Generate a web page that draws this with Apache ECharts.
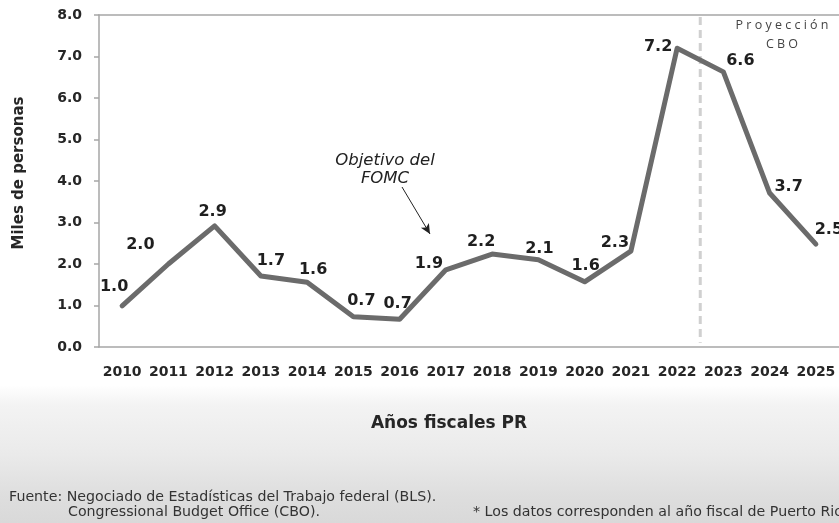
<!DOCTYPE html>
<html>
<head>
<meta charset="utf-8">
<script src="https://cdn.jsdelivr.net/npm/echarts@6/dist/echarts.min.js"></script>
<style>
  html, body { margin: 0; padding: 0; }
  body {
    width: 839px; height: 523px; overflow: hidden;
    background: linear-gradient(to bottom, #ffffff 0px, #ffffff 385px, #f3f3f3 405px, #eaeaea 455px, #dedede 495px, #d9d9d9 523px);
  }
  #chart { width: 839px; height: 523px; }
</style>
</head>
<body>
<div id="chart"></div>
<script>
const years = ["2010", "2011", "2012", "2013", "2014", "2015", "2016", "2017",
  "2018", "2019", "2020", "2021", "2022", "2023", "2024", "2025"];
const values = [0.99, 2.0, 2.92, 1.71, 1.56, 0.73, 0.67, 1.86,
  2.24, 2.1, 1.57, 2.31, 7.2, 6.63, 3.71, 2.48];
const yTicks = [0, 1, 2, 3, 4, 5, 6, 7, 8];
const projectionStart = "2023";

// label offsets (dx, dy) per point, relative to the point
const labelOffsets = [
  [-8, -19], [-28, -19], [-2, -14], [10, -15], [6, -12], [8, -16], [-2, -15], [-17, -6],
  [-11, -12], [1, -11], [1, -16], [-16, -8], [-19, -1], [17, -11], [19, -6], [13, -14]
];

const font = "DejaVu Sans";
const chart = echarts.init(document.getElementById("chart"));

const option = {
  animation: false,
  grid: { left: 99, top: 15, right: -4, bottom: 176 },
  xAxis: [
    {
      type: "category",
      data: years,
      axisLine: { lineStyle: { color: "#a6a6a6", width: 1.5 } },
      axisTick: { length: 5, lineStyle: { color: "#a6a6a6", width: 1.5 } },
      axisLabel: { interval: 0, fontFamily: font, fontWeight: "bold", fontSize: 14, color: "#262626", margin: 18 },
    },
    {
      type: "category",
      data: years,
      position: "top",
      axisLine: { lineStyle: { color: "#a6a6a6", width: 1.5 } },
      axisTick: { show: false },
      axisLabel: { show: false },
    },
  ],
  yAxis: {
    type: "value",
    min: yTicks[0],
    max: yTicks[yTicks.length - 1],
    interval: 1,
    axisLine: { show: true, lineStyle: { color: "#a6a6a6", width: 1.5 } },
    axisTick: { show: true, length: 5, lineStyle: { color: "#a6a6a6", width: 1.5 } },
    splitLine: { show: false },
    axisLabel: {
      fontFamily: font, fontWeight: "bold", fontSize: 14, color: "#262626", margin: 17,
      formatter: (v) => v.toFixed(1),
    },
  },
  series: [
    {
      type: "line",
      data: values.map((v, i) => ({
        value: v,
        label: { offset: labelOffsets[i] },
      })),
      showSymbol: true,
      symbol: "circle",
      symbolSize: 1,
      itemStyle: { color: "rgba(0,0,0,0)", borderWidth: 0 },
      lineStyle: { color: "#6b6b6b", width: 5, join: "round", cap: "round" },
      label: {
        show: true,
        position: "inside",
        fontFamily: font,
        fontWeight: "bold",
        fontSize: 16,
        color: "#1f1f1f",
        formatter: (p) => p.value.toFixed(1),
      },
      markLine: {
        silent: true,
        symbol: ["none", "arrow"],
        symbolSize: [7, 10],
        label: { show: false },
        lineStyle: { color: "#222", width: 1, type: "solid" },
        data: [[{ x: 402, y: 187 }, { x: 430, y: 234 }]],
      },
    },
  ],
};
chart.setOption(option);

// dashed separator between actual and projected years
const a = chart.convertToPixel({ xAxisIndex: 0 }, years[years.indexOf(projectionStart) - 1]);
const b = chart.convertToPixel({ xAxisIndex: 0 }, projectionStart);
const xs = (a + b) / 2;
const yTop = chart.convertToPixel({ yAxisIndex: 0 }, 8);
const yBot = chart.convertToPixel({ yAxisIndex: 0 }, 0.1);

chart.setOption({
  graphic: [
    {
      type: "line",
      shape: { x1: xs, y1: yTop + 2, x2: xs, y2: yBot },
      style: { stroke: "#d0d0d0", lineWidth: 3, lineDash: [8, 5] },
    },
    {
      type: "text",
      x: 19, y: 173, rotation: Math.PI / 2,
      style: {
        text: "Miles de personas",
        align: "center", verticalAlign: "middle",
        fontFamily: font, fontWeight: "bold", fontSize: 15, fill: "#262626",
      },
    },
    {
      type: "text",
      x: 449, y: 424,
      style: {
        text: "Años fiscales PR",
        align: "center", verticalAlign: "middle",
        fontFamily: font, fontWeight: "bold", fontSize: 17, fill: "#262626",
      },
    },
    {
      type: "text",
      x: 782, y: 16,
      style: {
        text: "P r o y e c c i ó n\nC B O",
        align: "center",
        fontFamily: "Open Sans",
        fontSize: 12.5,
        lineHeight: 19,
        fill: "#444",
      },
    },
    {
      type: "text",
      x: 385, y: 152,
      style: {
        text: "Objetivo del\nFOMC",
        align: "center",
        fontFamily: font,
        fontStyle: "italic",
        fontSize: 16.5,
        lineHeight: 18,
        fill: "#222",
      },
    },
    {
      type: "text",
      x: 9, y: 497,
      style: {
        text: "Fuente: Negociado de Estadísticas del Trabajo federal (BLS).",
        verticalAlign: "middle",
        fontFamily: font, fontSize: 14.2, fill: "#333",
      },
    },
    {
      type: "text",
      x: 68, y: 512,
      style: {
        text: "Congressional Budget Office (CBO).",
        verticalAlign: "middle",
        fontFamily: font, fontSize: 14.2, fill: "#333",
      },
    },
    {
      type: "text",
      x: 473, y: 512,
      style: {
        text: "* Los datos corresponden al año fiscal de Puerto Rico.",
        verticalAlign: "middle",
        fontFamily: font, fontSize: 14.2, fill: "#333",
      },
    },
  ],
});
</script>
</body>
</html>
